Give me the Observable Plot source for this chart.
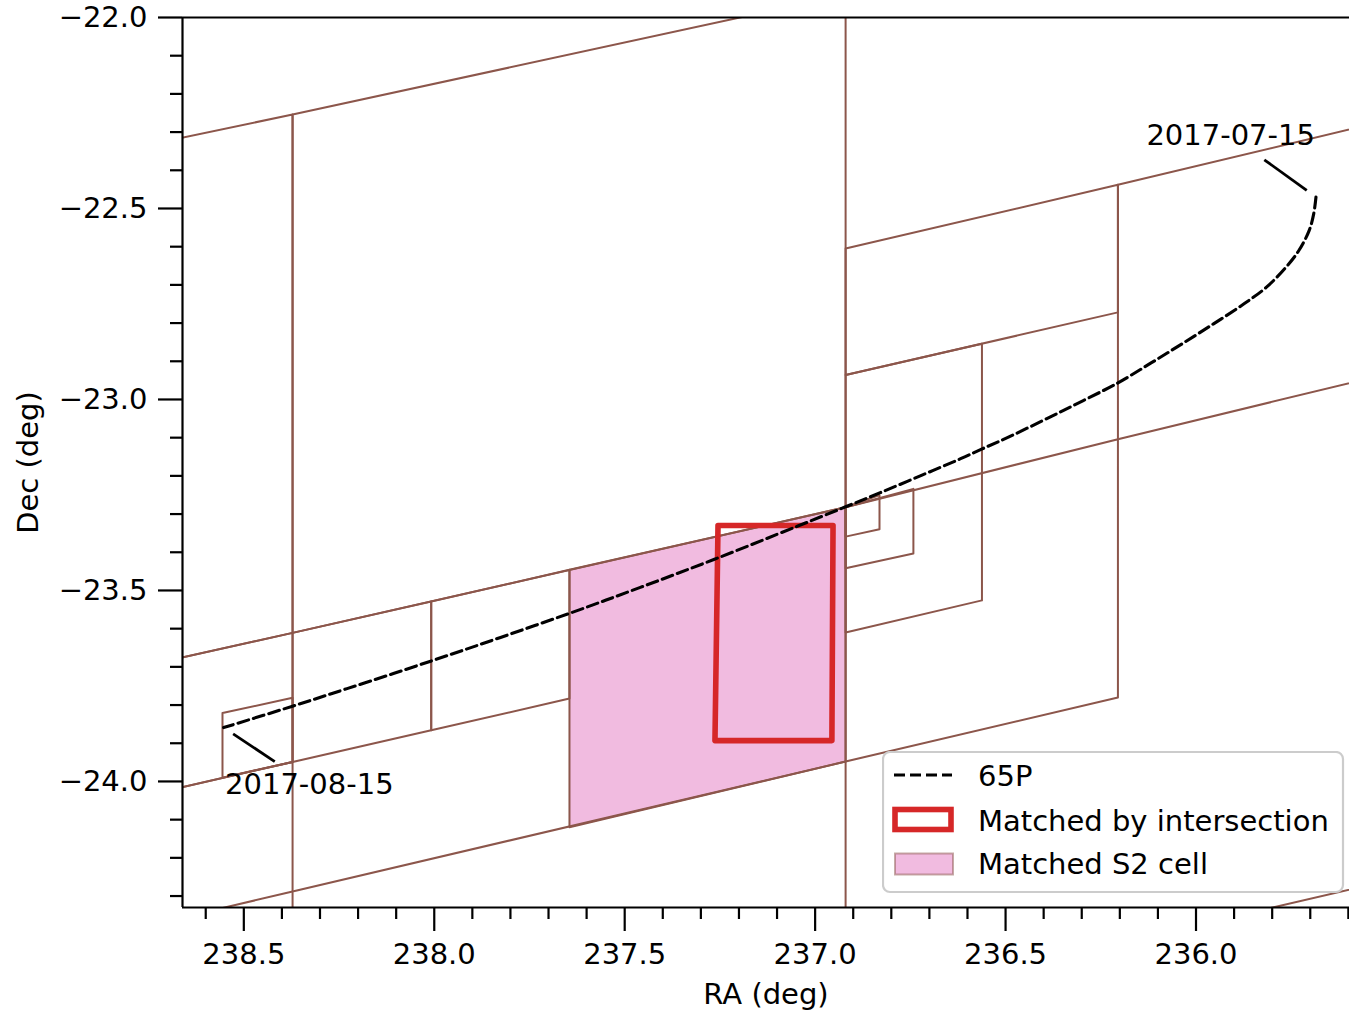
<!DOCTYPE html>
<html><head><meta charset="utf-8">
<script src="https://cdn.jsdelivr.net/npm/d3@7"></script>
<script src="https://cdn.jsdelivr.net/npm/@observablehq/plot@0.6"></script>
<style>
html,body{margin:0;padding:0;background:#fff;}
#wrap{position:relative;width:1349px;height:1012px;font-family:"DejaVu Sans",sans-serif;}
#legend{position:absolute;left:882px;top:751px;}
</style></head><body><div id="wrap"></div>
<script>
// ---- axes ----
const raMajorTicks = [238.5, 238.0, 237.5, 237.0, 236.5, 236.0];
const decMajorTicks = [-24.0, -23.5, -23.0, -22.5, -22.0];
const raDomain = [238.661, 235.597];
const decDomain = [-24.33, -22.0];
const xLabel = "RA (deg)";
const yLabel = "Dec (deg)";

// ---- S2 cells (4 corners each: RA, Dec) ----
const cellNames = ["A", "F0", "B", "C", "D", "E", "F1", "F2", "G", "R1", "R2", "R4", "R5", "R6", "R7", "R8"];
const cellRA = [
  [238.372, 236.920, 236.920, 238.372],
  [238.877, 238.372, 238.372, 238.877],
  [238.372, 238.008, 238.008, 238.372],
  [238.008, 237.645, 237.645, 238.008],
  [237.645, 236.920, 236.920, 237.645],
  [238.556, 238.372, 238.372, 238.556],
  [238.877, 238.372, 238.372, 238.877],
  [238.877, 238.372, 238.372, 238.877],
  [238.372, 236.920, 236.920, 238.372],
  [236.920, 236.205, 236.205, 236.920],
  [236.920, 236.562, 236.562, 236.920],
  [236.920, 236.205, 236.205, 236.920],
  [236.920, 236.742, 236.742, 236.920],
  [236.920, 236.831, 236.831, 236.920],
  [236.205, 235.332, 235.332, 236.205],
  [236.205, 235.332, 235.332, 236.205]
];
const cellDec = [
  [-22.254, -21.940, -23.282, -23.611],
  [-22.360, -22.254, -23.611, -23.723],
  [-23.611, -23.529, -23.866, -23.949],
  [-23.529, -23.446, -23.783, -23.866],
  [-23.446, -23.282, -23.948, -24.120],
  [-23.821, -23.781, -23.949, -23.990],
  [-23.723, -23.611, -23.949, -24.064],
  [-24.064, -23.949, -24.288, -24.407],
  [-24.288, -23.948, -24.626, -24.966],
  [-22.605, -22.438, -22.772, -22.936],
  [-22.936, -22.854, -23.526, -23.610],
  [-23.282, -23.104, -23.780, -23.948],
  [-23.282, -23.234, -23.403, -23.442],
  [-23.282, -23.250, -23.340, -23.359],
  [-22.438, -22.230, -22.893, -23.104],
  [-24.424, -24.222, -24.835, -25.045]
];
const matchedCellName = "D";

// ---- footprint matched by intersection ----
const rectRA = [237.255, 236.953, 236.956, 237.263];
const rectDec = [-23.330, -23.330, -23.893, -23.893];

// ---- 65P path (2017-07-15 -> 2017-08-15) ----
const pathRA = [235.685, 235.691, 235.703, 235.730, 235.764, 235.815, 235.873, 235.954, 236.041, 236.119,
  236.206, 236.349, 236.487, 236.563, 236.618, 236.724, 236.829, 236.920, 237.047, 237.266,
  237.459, 237.634, 237.826, 238.006, 238.229, 238.372, 238.553];
const pathDec = [-22.470, -22.514, -22.558, -22.610, -22.654, -22.706, -22.749, -22.802, -22.857, -22.905,
  -22.957, -23.029, -23.096, -23.130, -23.155, -23.200, -23.244, -23.281, -23.332, -23.419,
  -23.492, -23.556, -23.623, -23.684, -23.757, -23.803, -23.859];

// ---- annotations ----
const annotationLabels = ["2017-07-15", "2017-08-15"];
const annotationRA = [235.909, 238.328];
const annotationDec = [-22.309, -24.008];
const annotationPathIndex = [0, pathRA.length - 1];

// ---- legend ----
const legendLabels = ["65P", "Matched by intersection", "Matched S2 cell"];

const colors = {cell: "#8c564b", pink: "#e377c2", red: "#d62728", path: "#000000"};
const FS = 29;
const DASH = "11,5";

// build tables
const cells = cellNames.flatMap((name, i) => [0, 1, 2, 3, 0].map(k => ({cell: name, ra: cellRA[i][k], dec: cellDec[i][k]})));
const mi = cellNames.indexOf(matchedCellName);
const matched = [0, 1, 2, 3].map(k => ({ra: cellRA[mi][k], dec: cellDec[mi][k]}));
const rect = [0, 1, 2, 3, 0].map(k => ({ra: rectRA[k], dec: rectDec[k]}));
const path = pathRA.map((ra, i) => ({ra, dec: pathDec[i]}));
const annotations = annotationLabels.map((label, i) => ({
  label, tx: annotationRA[i], ty: annotationDec[i],
  px: pathRA[annotationPathIndex[i]], py: pathDec[annotationPathIndex[i]]
}));

const isMajor10 = v => v % 5 === 0;
const raMinor = d3.range(2356, 2387).filter(v => !isMajor10(v)).map(v => v / 10);
const decMinor = d3.range(-243, -219).filter(v => !isMajor10(v)).map(v => v / 10);
const fmt = d => d.toFixed(1).replace("-", "\u2212");

const chart = Plot.plot({
  width: 1349, height: 1012,
  marginLeft: 182, marginRight: 0, marginTop: 17, marginBottom: 105,
  style: {fontFamily: "'DejaVu Sans', sans-serif", fontSize: FS + "px", background: "white", color: "black", overflow: "visible"},
  x: {domain: raDomain, label: xLabel},
  y: {domain: decDomain, label: yLabel},
  marks: [
    Plot.line(matched, {x: "ra", y: "dec", fill: colors.pink, fillOpacity: 0.5, stroke: "none", clip: true}),
    Plot.line(cells, {x: "ra", y: "dec", z: "cell", stroke: colors.cell, strokeWidth: 2, clip: true}),
    Plot.line(rect, {x: "ra", y: "dec", stroke: colors.red, strokeWidth: 5.6, strokeLinejoin: "round"}),
    Plot.line(path, {x: "ra", y: "dec", stroke: colors.path, strokeWidth: 3.1, strokeDasharray: DASH, curve: "catmull-rom"}),
    Plot.arrow(annotations, {x1: "tx", y1: "ty", x2: "px", y2: "py", headLength: 0, insetStart: 41.5, insetEnd: 11.4, stroke: "black", strokeWidth: 2.8, strokeLinecap: "butt"}),
    Plot.text(annotations, {x: "tx", y: "ty", text: "label", fontSize: FS, fill: "black", textAnchor: "middle"}),
    Plot.ruleX([raDomain[0]], {stroke: "black", strokeWidth: 2.2}),
    Plot.ruleY([decDomain[0]], {stroke: "black", strokeWidth: 2.2}),
    Plot.ruleY([decDomain[1]], {stroke: "black", strokeWidth: 2.2}),
    Plot.axisX(raMinor, {anchor: "bottom", tickSize: 12, strokeWidth: 2.2, tickFormat: () => "", label: null}),
    Plot.axisX(raMajorTicks, {anchor: "bottom", tickSize: 24, tickPadding: 12, strokeWidth: 2.2, fontSize: FS, tickFormat: fmt,
      label: xLabel, labelAnchor: "center", labelArrow: "none", labelOffset: 96}),
    Plot.axisY(decMinor, {anchor: "left", tickSize: 12, strokeWidth: 2.2, tickFormat: () => "", label: null}),
    Plot.axisY(decMajorTicks, {anchor: "left", tickSize: 24, tickPadding: 11, strokeWidth: 2.2, fontSize: FS, tickFormat: fmt,
      label: yLabel, labelAnchor: "center", labelArrow: "none", labelOffset: 165})
  ]
});
const wrap = document.getElementById("wrap");
wrap.appendChild(chart);

// legend overlay
const lg = d3.select(wrap).append("svg").attr("id", "legend")
  .attr("width", 464).attr("height", 144)
  .style("font-family", "'DejaVu Sans', sans-serif").style("font-size", FS + "px");
lg.append("rect").attr("x", 1).attr("y", 1).attr("width", 460).attr("height", 140).attr("rx", 7)
  .attr("fill", "white").attr("fill-opacity", 0.8).attr("stroke", "#cccccc").attr("stroke-width", 2.2);
lg.append("line").attr("x1", 12).attr("x2", 70).attr("y1", 24).attr("y2", 24)
  .attr("stroke", colors.path).attr("stroke-width", 3.1).attr("stroke-dasharray", DASH);
lg.append("rect").attr("x", 13).attr("y", 58.5).attr("width", 56).attr("height", 20)
  .attr("fill", "white").attr("stroke", colors.red).attr("stroke-width", 5.6);
lg.append("rect").attr("x", 13).attr("y", 102.5).attr("width", 58).attr("height", 21)
  .attr("fill", colors.pink).attr("fill-opacity", 0.5).attr("stroke", colors.cell).attr("stroke-opacity", 0.5).attr("stroke-width", 2);
const ly = [35, 80, 123];
legendLabels.forEach((t, i) => {
  lg.append("text").attr("x", 96).attr("y", ly[i]).attr("fill", "black").text(t);
});
</script></body></html>
